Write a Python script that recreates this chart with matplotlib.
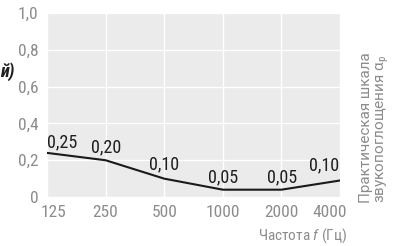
import matplotlib
matplotlib.use("Agg")
import matplotlib.pyplot as plt
from matplotlib.transforms import ScaledTranslation

# octave-band frequencies and practical absorption coefficient
freqs = ["125", "250", "500", "1000", "2000", "4000"]
alpha_line = [0.24, 0.20, 0.10, 0.04, 0.04, 0.09]
alpha_labels = ["0,25", "0,20", "0,10", "0,05", "0,05", "0,10"]
yticks = [0, 0.2, 0.4, 0.6, 0.8, 1.0]
ytick_labels = ["0", "0,2", "0,4", "0,6", "0,8", "1,0"]

plt.rcParams['font.family'] = ['Roboto Condensed', 'DejaVu Sans']
plt.rcParams['mathtext.fontset'] = 'custom'
plt.rcParams['mathtext.rm'] = 'Roboto Condensed'
plt.rcParams['mathtext.it'] = 'Roboto Condensed:italic'

fig = plt.figure(figsize=(4.0, 2.46), dpi=100)
ax = fig.add_axes([0.1175, 0.199, 0.7325, 0.748])
ax.set_facecolor("#ebebeb")

x = list(range(len(freqs)))
ax.plot(x, alpha_line, color="#1a1a1a", lw=1.5, solid_capstyle="round")

# value labels above the curve
offsets = [(15, 11), (1, 13), (0, 14), (0, 12), (1, 12), (-16, 15)]
for xi, yi, lab, (dx, dy) in zip(x, alpha_line, alpha_labels, offsets):
    ax.annotate(lab, (xi, yi), xytext=(dx, dy), textcoords="offset pixels",
                ha="center", va="center", fontsize=13, color="#1e1e1e")

ax.set_xlim(0, len(freqs) - 1)
ax.set_ylim(0, 1.0)
ax.set_xticks(x)
ax.set_xticklabels(freqs)
ax.set_yticks(yticks)
ax.set_yticklabels(ytick_labels)
ax.grid(True, color="white", lw=1.0)
ax.set_axisbelow(True)
for s in ax.spines.values():
    s.set_visible(False)
ax.tick_params(length=0, labelsize=12.5, labelcolor="#8c8c8c")
ax.tick_params(axis="x", pad=6)
ax.tick_params(axis="y", pad=6)
# nudge the end labels inwards a little
xl = ax.get_xticklabels()
xl[0].set_transform(xl[0].get_transform() + ScaledTranslation(0.06, 0, fig.dpi_scale_trans))
xl[-1].set_transform(xl[-1].get_transform() + ScaledTranslation(-0.10, 0, fig.dpi_scale_trans))

fig.text(0.8675, 0.041, "Частота $\\mathit{f}$ (Гц)", ha="right", va="center",
         fontsize=11, color="#8c8c8c")
fig.text(0.937, 0.175, "Практическая шкала\nзвукопоглощения α$_\\mathrm{p}$",
         rotation=90, ha="center", va="bottom", multialignment="left",
         fontsize=11, color="#8c8c8c", linespacing=1.1,
         family=['Roboto', 'DejaVu Sans'])
fig.text(0.0, 0.707, "й)", ha="left", va="center", fontsize=13,
         fontweight="bold", style="italic", color="#1e1e1e")

fig.savefig("out.png", dpi=100)
